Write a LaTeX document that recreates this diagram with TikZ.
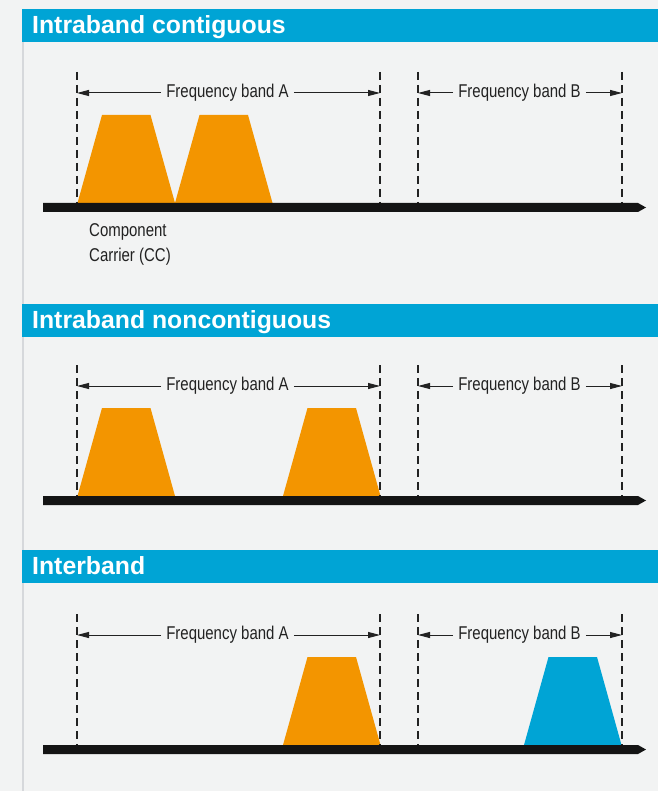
\documentclass[tikz,border=0pt]{standalone}
\usepackage{fontspec}
\setmainfont{Liberation Sans}
\newfontfamily\condfont[FakeStretch=0.81]{Liberation Sans}
\usetikzlibrary{arrows.meta,positioning,calc}
\definecolor{bgGray}{RGB}{242,243,243}
\definecolor{edgeGray}{RGB}{214,216,219}
\definecolor{headBlue}{RGB}{0,164,213}
\definecolor{ccOrange}{RGB}{243,149,0}
\definecolor{axisBlack}{RGB}{20,20,20}
\definecolor{textDark}{RGB}{34,34,34}
\tikzset{
  title/.style={anchor=base west, inner sep=0pt, text=white, font=\fontsize{24.8}{28}\selectfont\bfseries},
  band/.style={inner xsep=5pt, inner ysep=0pt, text=textDark, font=\condfont\fontsize{18.5}{22}\selectfont},
  note/.style={anchor=north west, inner sep=0pt, align=left, text=textDark, font=\condfont\fontsize{18.5}{25}\selectfont},
  guide/.style={draw=textDark, line width=1.3pt, dash pattern=on 8pt off 5pt},
  dim/.style={-{Triangle[length=12pt,width=6pt]}, line width=1pt, draw=textDark}
}
% carrier trapezoid: colour, bottom-left x, axis top y
\newcommand{\carrier}[3]{\fill[#1] (#2,#3) -- ++(24.5,-88) -- ++(48.5,0) -- ++(24.5,88) -- cycle;}
% frequency axis with pointed end
\newcommand{\freqaxis}[1]{\fill[axisBlack] (43,#1) -- (638,#1) -- (646,#1+4.5) -- (638,#1+9) -- (43,#1+9) -- cycle;}

\begin{document}
\begin{tikzpicture}[x=1pt,y=-1pt]
  \fill[bgGray] (0,0) rectangle (658,791);
  \useasboundingbox (0,0) rectangle (658,791);
  \draw[edgeGray, line width=1.2pt] (23,9) -- (23,791);

  % intraband contiguous
  \fill[headBlue] (22,9) rectangle (658,42);
  \node[title] (head1) at (32,33.3) {Intraband contiguous};
  \carrier{ccOrange}{77.5}{203}
  \carrier{ccOrange}{175}{203}
  \freqaxis{203}
  \foreach \gx in {77,380,418,622} \draw[guide] (\gx,72) -- (\gx,203);
  \coordinate (a1l) at (77,93);
  \coordinate (a1r) at (380,93);
  \coordinate (b1l) at (418,93);
  \coordinate (b1r) at (622,93);
  \node[band] (fa1) at (227.5,93) {Frequency band A};
  \node[band] (fb1) at (519.5,93) {Frequency band B};
  \draw[dim] (fa1.west) -- (a1l);
  \draw[dim] (fa1.east) -- (a1r);
  \draw[dim] (fb1.west) -- (b1l);
  \draw[dim] (fb1.east) -- (b1r);
  \node[note] (cc) at (89,223.5) {Component\\Carrier (CC)};

  % intraband noncontiguous
  \fill[headBlue] (22,304) rectangle (658,337);
  \node[title] (head2) at (32,328.3) {Intraband noncontiguous};
  \carrier{ccOrange}{77.5}{496}
  \carrier{ccOrange}{283}{496}
  \freqaxis{496}
  \foreach \gx in {77,380,418,622} \draw[guide] (\gx,365) -- (\gx,496);
  \coordinate (a2l) at (77,386);
  \coordinate (a2r) at (380,386);
  \coordinate (b2l) at (418,386);
  \coordinate (b2r) at (622,386);
  \node[band] (fa2) at (227.5,386) {Frequency band A};
  \node[band] (fb2) at (519.5,386) {Frequency band B};
  \draw[dim] (fa2.west) -- (a2l);
  \draw[dim] (fa2.east) -- (a2r);
  \draw[dim] (fb2.west) -- (b2l);
  \draw[dim] (fb2.east) -- (b2r);

  % interband
  \fill[headBlue] (22,550) rectangle (658,583);
  \node[title] (head3) at (32,574.3) {Interband};
  \carrier{ccOrange}{283}{745}
  \carrier{headBlue}{524}{745}
  \freqaxis{745}
  \foreach \gx in {77,380,418,622} \draw[guide] (\gx,614) -- (\gx,745);
  \coordinate (a3l) at (77,635);
  \coordinate (a3r) at (380,635);
  \coordinate (b3l) at (418,635);
  \coordinate (b3r) at (622,635);
  \node[band] (fa3) at (227.5,635) {Frequency band A};
  \node[band] (fb3) at (519.5,635) {Frequency band B};
  \draw[dim] (fa3.west) -- (a3l);
  \draw[dim] (fa3.east) -- (a3r);
  \draw[dim] (fb3.west) -- (b3l);
  \draw[dim] (fb3.east) -- (b3r);
\end{tikzpicture}
\end{document}
